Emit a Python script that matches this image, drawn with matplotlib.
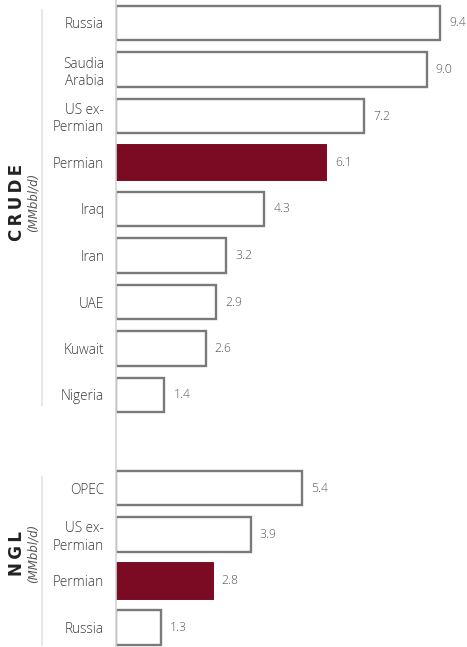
import matplotlib
matplotlib.use("Agg")
import matplotlib.pyplot as plt

# Crude and NGL production, MMbbl/d
crude_labels = ["Russia", "Saudia\nArabia", "US ex-\nPermian", "Permian", "Iraq",
                "Iran", "UAE", "Kuwait", "Nigeria"]
crude_values = [9.4, 9.0, 7.2, 6.1, 4.3, 3.2, 2.9, 2.6, 1.4]
ngl_labels = ["OPEC", "US ex-\nPermian", "Permian", "Russia"]
ngl_values = [5.4, 3.9, 2.8, 1.3]
highlight = "Permian"

W, H, DPI = 467, 647, 100
fig = plt.figure(figsize=(W / DPI, H / DPI), dpi=DPI)
fig.patch.set_facecolor("white")

x0 = 116
ax = fig.add_axes([x0 / W, 0, (W - x0) / W, 1])

crude_pos = list(range(len(crude_values)))
ngl_start = len(crude_values) + 1
ngl_pos = [ngl_start + i for i in range(len(ngl_values))]

positions = crude_pos + ngl_pos
labels = crude_labels + ngl_labels
values = crude_values + ngl_values

maroon = "#7a0b22"
edge = "#7a7a7a"
for p, lab, v in zip(positions, labels, values):
    if lab == highlight:
        ax.barh(p, v, height=0.77, color=maroon, edgecolor=maroon, linewidth=1.4)
    else:
        ax.barh(p, v, height=0.74, color="white", edgecolor=edge, linewidth=1.7)
    ax.annotate(f"{v:.1f}", xy=(v, p), xytext=(6.5, 0), textcoords="offset points",
                ha="left", va="center", fontsize=8.8, color="#555555",
                family="Open Sans", fontweight="light", annotation_clip=False)

px_per_unit = 34.5
ax.set_xlim(0, (W - x0) / px_per_unit)
row = 46.5
ax.set_ylim((H - 23) / row, -23 / row)

ax.set_yticks(positions)
ax.set_yticklabels(labels, fontsize=9.8, color="#3a3a3a", family="Open Sans",
                   fontweight="light", linespacing=1.2)
ax.tick_params(axis="y", length=0, pad=8.5)
ax.set_xticks([])
for s in ["top", "right", "bottom"]:
    ax.spines[s].set_visible(False)
ax.spines["left"].set_color("#d4d4d4")
ax.spines["left"].set_linewidth(1.2)

# group brackets on the far left
def vline(x, y_top, y_bot):
    fig.add_artist(plt.Line2D([x / W, x / W], [1 - y_top / H, 1 - y_bot / H],
                              color="#e3e3e3", lw=1.2))

vline(42, 10, 405)
vline(42, 477, 645)

def spaced(s):
    return "\u2009".join(s)

def group_label(title, yc):
    fig.text(17 / W, 1 - yc / H, spaced(title), rotation=90, ha="center", va="center",
             fontsize=12, fontweight="bold", color="#222222", family="DejaVu Sans")
    fig.text(33 / W, 1 - yc / H, "(MMbbl/d)", rotation=90, ha="center", va="center",
             fontsize=8.5, style="italic", color="#555555", family="DejaVu Sans",
             fontweight="light")

group_label("CRUDE", 202)
group_label("NGL", 553)

fig.savefig("out.png", dpi=DPI, facecolor="white")
